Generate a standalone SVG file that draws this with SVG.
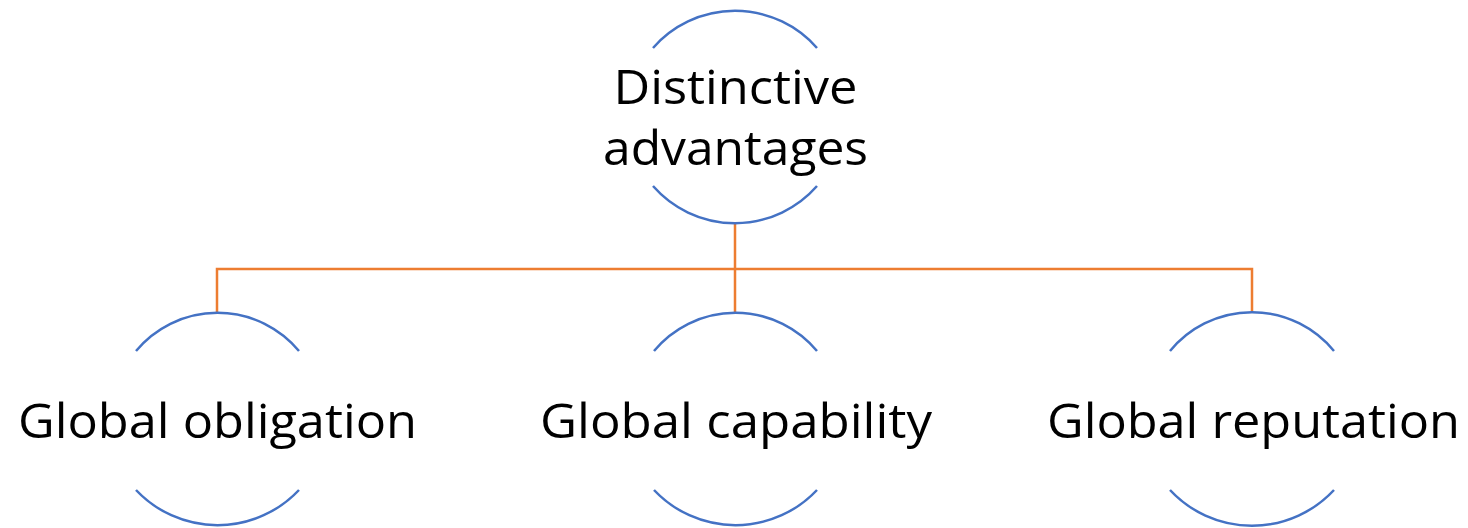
<svg xmlns="http://www.w3.org/2000/svg" width="1468" height="528" viewBox="0 0 1468 528">
<style>
.arc{fill:none;stroke:#4472C4;stroke-width:2.5}
.conn{fill:none;stroke:#ED7D31;stroke-width:2.5}
.lbl{font-family:"Open Sans","Noto Sans","Liberation Sans",sans-serif;font-size:48px;fill:#000;text-anchor:middle}
</style>
<rect width="1468" height="528" fill="#fff"/>
<g id="connectors">
<path class="conn" d="M735,223 V269 M217,313 V269 H1252 V313 M735,269 V313"/>
</g>
<g id="node-distinctive">
<path class="arc" d="M653,48 A109,109 0 0 1 817,48"/>
<path class="arc" d="M653,186 A109,109 0 0 0 817,186"/>
<text class="lbl" x="735.5" y="104" textLength="244" lengthAdjust="spacingAndGlyphs">Distinctive</text>
<text class="lbl" x="735.5" y="165" textLength="265" lengthAdjust="spacingAndGlyphs">advantages</text>
</g>
<g id="node-obligation">
<path class="arc" d="M136,351 A106,106 0 0 1 299,351"/>
<path class="arc" d="M136,490 A112,112 0 0 0 299,490"/>
<text class="lbl" x="217.5" y="438" textLength="399" lengthAdjust="spacingAndGlyphs">Global obligation</text>
</g>
<g id="node-capability">
<path class="arc" d="M654,351 A106,106 0 0 1 817,351"/>
<path class="arc" d="M654,490 A112,112 0 0 0 817,490"/>
<text class="lbl" x="736" y="438" textLength="392" lengthAdjust="spacingAndGlyphs">Global capability</text>
</g>
<g id="node-reputation">
<path class="arc" d="M1170,351 A106,106 0 0 1 1334,351"/>
<path class="arc" d="M1170,490 A112,112 0 0 0 1334,490"/>
<text class="lbl" x="1253.5" y="438" textLength="413" lengthAdjust="spacingAndGlyphs">Global reputation</text>
</g>
</svg>
